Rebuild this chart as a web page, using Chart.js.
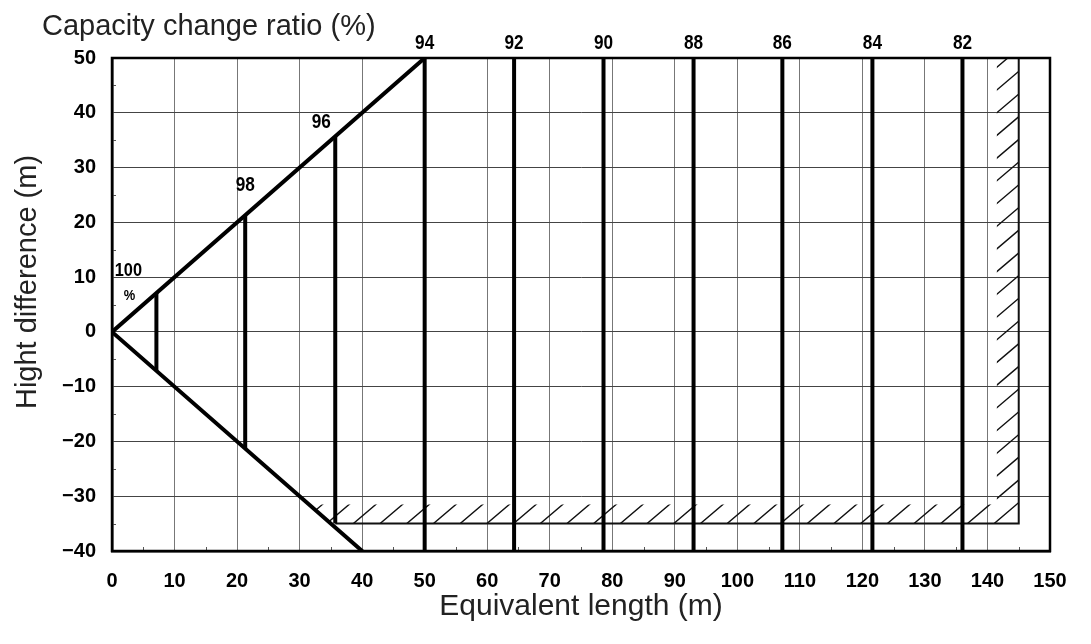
<!DOCTYPE html>
<html>
<head>
<meta charset="utf-8">
<script src="https://cdn.jsdelivr.net/npm/chart.js@4/dist/chart.umd.min.js"></script>
<style>
  html, body { margin: 0; padding: 0; background: #fff; }
  #wrap { width: 1091px; height: 644px; position: relative; }
</style>
</head>
<body>
<div id="wrap"><canvas id="c" width="1091" height="644"></canvas></div>
<script>
// ---- data ----
const xTicks = [0, 10, 20, 30, 40, 50, 60, 70, 80, 90, 100, 110, 120, 130, 140, 150];
const yTicks = [50, 40, 30, 20, 10, 0, -10, -20, -30, -40];
const ratioLabels = ['100', '98', '96', '94', '92', '90', '88', '86', '84', '82'];
const ratioLength = [7.1, 21.3, 35.7, 50, 64.3, 78.6, 93, 107.2, 121.6, 136];
const ratioTop    = [7.1, 21.3, 35.7, 50, 50, 50, 50, 50, 50, 50];
const ratioBottom = [-7.1, -21.3, -35, -40, -40, -40, -40, -40, -40, -40];
const upperEdge = [[0, 0], [50, 50]];
const lowerEdge = [[0, 0], [40, -40]];
const limitLength = 145;   // max equivalent length (m)
const limitBelow = -35;    // max height difference, outdoor unit below (m)
const hatchLengthStart = 141.5;
const hatchHeightTop = -31.5;

const titleTop = 'Capacity change ratio (%)';
const titleX = 'Equivalent length (m)';
const titleY = 'Hight difference (m)';

const xMin = 0, xMax = 150, yMin = -40, yMax = 50;

const datasets = [];
datasets.push({
  data: upperEdge.map(p => ({x: p[0], y: p[1]})),
  borderColor: '#000', borderWidth: 4, showLine: true, pointRadius: 0, borderCapStyle: 'round'
});
datasets.push({
  data: lowerEdge.map(p => ({x: p[0], y: p[1]})),
  borderColor: '#000', borderWidth: 4, showLine: true, pointRadius: 0, borderCapStyle: 'round'
});
ratioLength.forEach((v, i) => {
  datasets.push({
    data: [{x: v, y: ratioBottom[i]}, {x: v, y: ratioTop[i]}],
    borderColor: '#000', borderWidth: 4, showLine: true, pointRadius: 0
  });
});
// limit lines
datasets.push({
  data: [{x: ratioLength[2], y: limitBelow}, {x: limitLength, y: limitBelow}, {x: limitLength, y: yMax}],
  borderColor: '#111', borderWidth: 2, showLine: true, pointRadius: 0
});

const FONT = "'Liberation Sans', Arial, sans-serif";
const FONT_NARROW = "'Liberation Sans Narrow', 'Liberation Sans', Arial, sans-serif";

function narrowText(ctx, text, px, py, size) {
  ctx.save();
  ctx.translate(px, py);
  ctx.scale(0.86, 1);
  ctx.font = "bold " + size + "px " + FONT;
  ctx.fillText(text, 0, 0);
  ctx.restore();
}

const decor = {
  id: 'decor',
  beforeDatasetsDraw(chart) {
    const {ctx, scales: {x, y}} = chart;
    // hatching
    ctx.save();
    ctx.beginPath();
    ctx.moveTo(x.getPixelForValue(-hatchHeightTop), y.getPixelForValue(hatchHeightTop));
    ctx.lineTo(x.getPixelForValue(hatchLengthStart), y.getPixelForValue(hatchHeightTop));
    ctx.lineTo(x.getPixelForValue(hatchLengthStart), y.getPixelForValue(yMax));
    ctx.lineTo(x.getPixelForValue(limitLength), y.getPixelForValue(yMax));
    ctx.lineTo(x.getPixelForValue(limitLength), y.getPixelForValue(limitBelow));
    ctx.lineTo(x.getPixelForValue(-limitBelow), y.getPixelForValue(limitBelow));
    ctx.closePath();
    ctx.clip();
    ctx.strokeStyle = '#111';
    ctx.lineWidth = 1.4;
    const x0 = x.getPixelForValue(xMin), x1 = x.getPixelForValue(xMax);
    const yb = y.getPixelForValue(limitBelow);
    const slope = 19.3 / 22.7;
    const step = 26.7;
    ctx.beginPath();
    for (let s = x0 - 800; s < x1 + 50; s += step) {
      ctx.moveTo(s - 600, yb + 600 * slope);
      ctx.lineTo(s + 600, yb - 600 * slope);
    }
    ctx.stroke();
    ctx.restore();

    // minor ticks at 5s
    ctx.save();
    ctx.strokeStyle = '#555';
    ctx.lineWidth = 1;
    ctx.beginPath();
    for (let v = xMin + 5; v < xMax; v += 10) {
      const px = Math.round(x.getPixelForValue(v)) + 0.5;
      ctx.moveTo(px, y.bottom);
      ctx.lineTo(px, y.bottom - 4);
    }
    for (let v = yMin + 5; v < yMax; v += 10) {
      const py = Math.round(y.getPixelForValue(v)) + 0.5;
      ctx.moveTo(x.left, py);
      ctx.lineTo(x.left + 4, py);
    }
    ctx.stroke();
    ctx.restore();
  },
  afterDraw(chart) {
    const {ctx, chartArea: a, scales: {x, y}} = chart;
    ctx.save();
    ctx.fillStyle = '#000';
    ctx.textAlign = 'center';
    ctx.textBaseline = 'alphabetic';
    ratioLabels.forEach((lab, i) => {
      const px = x.getPixelForValue(ratioLength[i]);
      const py = y.getPixelForValue(ratioTop[i]);
      if (i === 0) {
        narrowText(ctx, lab, px - 28, py - 17, 19);
        narrowText(ctx, '%', px - 27, py + 7, 15);
      } else if (i === 1) {
        narrowText(ctx, lab, px, py - 24, 20);
      } else if (i === 2) {
        narrowText(ctx, lab, px - 14, py - 8, 20);
      } else {
        narrowText(ctx, lab, px, py - 9, 20);
      }
    });
    // titles
    ctx.fillStyle = '#222';
    ctx.font = "29px " + FONT;
    ctx.textAlign = 'left';
    ctx.fillText(titleTop, 42, 35);

    ctx.textAlign = 'center';
    ctx.font = "30px " + FONT;
    ctx.fillText(titleX, (a.left + a.right) / 2, 615);

    ctx.save();
    ctx.translate(36, 282);
    ctx.rotate(-Math.PI / 2);
    ctx.font = "29px " + FONT;
    ctx.fillText(titleY, 0, 0);
    ctx.restore();
    ctx.restore();
  }
};

new Chart(document.getElementById('c'), {
  type: 'scatter',
  data: { datasets },
  options: {
    responsive: false,
    animation: false,
    devicePixelRatio: 1,
    layout: { padding: { top: 58, right: 41, left: 0, bottom: 0 } },
    plugins: { legend: { display: false }, tooltip: { enabled: false } },
    scales: {
      x: {
        type: 'linear', min: xMin, max: xMax,
        afterBuildTicks: s => { s.ticks = xTicks.map(v => ({value: v})); },
        afterFit: s => { s.height = 93; },
        grid: { color: '#777', lineWidth: 1, drawTicks: false },
        border: { display: true, color: '#000', width: 2.5 },
        ticks: { color: '#000', padding: 18, font: { family: FONT, size: 20, weight: 'bold' } }
      },
      y: {
        type: 'linear', min: yMin, max: yMax,
        afterBuildTicks: s => { s.ticks = yTicks.map(v => ({value: v})); },
        afterFit: s => { s.width = 112; },
        grid: { color: '#444', lineWidth: 1, drawTicks: false },
        border: { display: true, color: '#000', width: 2.5 },
        ticks: { color: '#000', padding: 16, font: { family: FONT, size: 20, weight: 'bold' },
                 callback: v => (v < 0 ? '\u2212' + Math.abs(v) : String(v)) }
      }
    }
  },
  plugins: [decor, {
    id: 'frame',
    afterDraw(chart) {
      const {ctx, chartArea: a} = chart;
      ctx.save();
      ctx.strokeStyle = '#000';
      ctx.lineWidth = 2.5;
      ctx.strokeRect(a.left, a.top, a.right - a.left, a.bottom - a.top);
      ctx.restore();
    }
  }]
});
</script>
</body>
</html>
